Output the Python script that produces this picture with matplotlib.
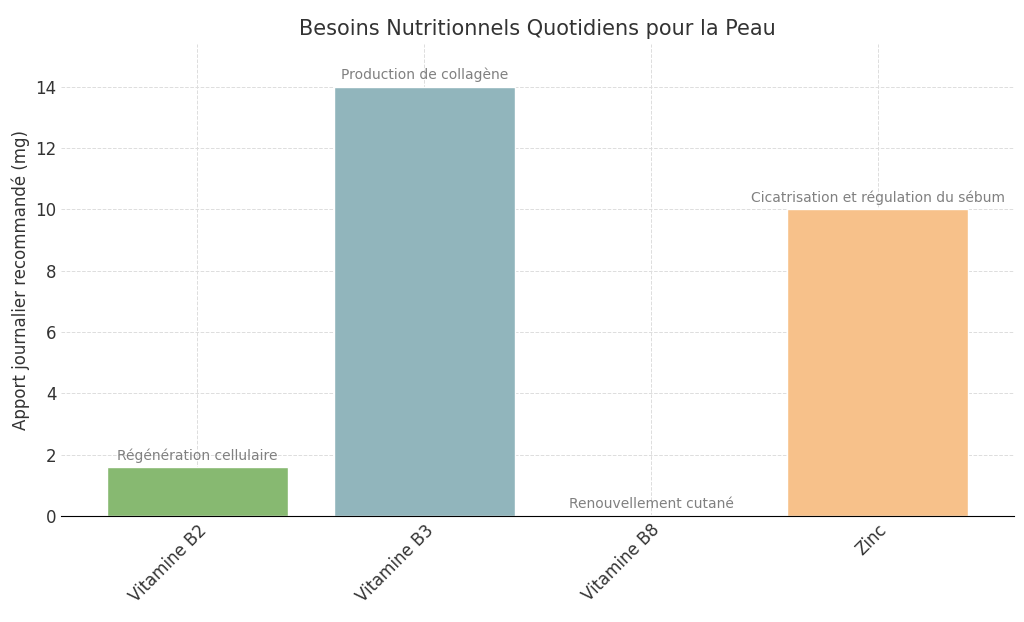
import matplotlib
matplotlib.use("Agg")
import matplotlib.pyplot as plt

categories = ["Vitamine B2", "Vitamine B3", "Vitamine B8", "Zinc"]
values = [1.6, 14, 0.03, 10]
roles = ["Régénération cellulaire", "Production de collagène", "Renouvellement cutané", "Cicatrisation et régulation du sébum"]
colors = ["#87b971", "#91b5bc", "#c9c9c9", "#f7c18a"]

fig, ax = plt.subplots(figsize=(10.24, 6.22), dpi=100)
bars = ax.bar(categories, values, color=colors, edgecolor="white", linewidth=1)
for b, r, v in zip(bars, roles, values):
    ax.text(b.get_x() + b.get_width() / 2, v + 0.15, r, ha="center", va="bottom", color="gray", fontsize=10)
ax.set_ylim(0, 15.4)
ax.set_ylabel("Apport journalier recommandé (mg)", fontsize=12, color="#333333")
ax.set_title("Besoins Nutritionnels Quotidiens pour la Peau", fontsize=15, color="#333333")
ax.grid(True, linestyle="--", color="#dddddd", linewidth=0.7)
ax.set_axisbelow(True)
for s in ["top", "right", "left"]:
    ax.spines[s].set_visible(False)
ax.tick_params(axis="both", labelsize=12, length=0, colors="#333333")
plt.setp(ax.get_xticklabels(), rotation=45, ha="right", rotation_mode="anchor")
ax.set_xlim(-0.6, 3.6)
fig.subplots_adjust(left=0.06, right=0.99, top=0.93, bottom=0.17)
fig.savefig("out.png")
